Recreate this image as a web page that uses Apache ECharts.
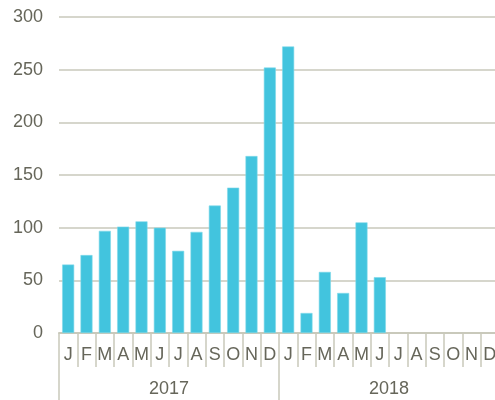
<!DOCTYPE html>
<html><head><meta charset="utf-8">
<script src="https://cdn.jsdelivr.net/npm/echarts@6/dist/echarts.min.js"></script>
<style>html,body{margin:0;padding:0;background:#fff}#c{width:495px;height:400px}</style>
</head><body><div id="c"></div>
<script>
const months = ['J','F','M','A','M','J','J','A','S','O','N','D','J','F','M','A','M','J','J','A','S','O','N','D'];
const years = ['2017','2018'];
const values = [65,74,97,101,106,100,78,96,121,138,168,252,272,19,58,38,105,53,null,null,null,null,null,null];
const yTicks = {min:0, max:300, interval:50};

const chart = echarts.init(document.getElementById('c'), null, {renderer:'canvas'});
const txt = '#66665a';
const axisCol = '#c9c9bb';
chart.setOption({
  animation:false,
  grid:{left:59, width:440, top:17, height:316, containLabel:false, outerBoundsMode:'none'},
  xAxis:[{
    type:'category', data:months, position:'bottom',
    axisLine:{show:true, lineStyle:{color:axisCol, width:2}},
    axisTick:{show:true, interval:0, length:34, lineStyle:{color:axisCol, width:1.5}},
    axisLabel:{interval:0, color:txt, fontSize:18, fontFamily:'Liberation Sans', margin:13, hideOverlap:false}
  },{
    type:'category', data:years, position:'bottom',
    axisLine:{show:false},
    axisTick:{show:true, interval:0, length:67, lineStyle:{color:axisCol, width:1.5}},
    axisLabel:{interval:0, color:txt, fontSize:18, fontFamily:'Liberation Sans', margin:47}
  }],
  yAxis:{
    type:'value', min:yTicks.min, max:yTicks.max, interval:yTicks.interval,
    axisLine:{show:false}, axisTick:{show:false},
    splitLine:{lineStyle:{color:'#d6d6cc', width:2}},
    axisLabel:{color:txt, fontSize:18, fontFamily:'Liberation Sans', margin:16}
  },
  series:[{
    type:'bar', data:values, xAxisIndex:0, barWidth:12,
    itemStyle:{color:'#42c4de', borderColor:'#7fd8ea', borderWidth:0.6}
  }]
});
</script></body></html>
